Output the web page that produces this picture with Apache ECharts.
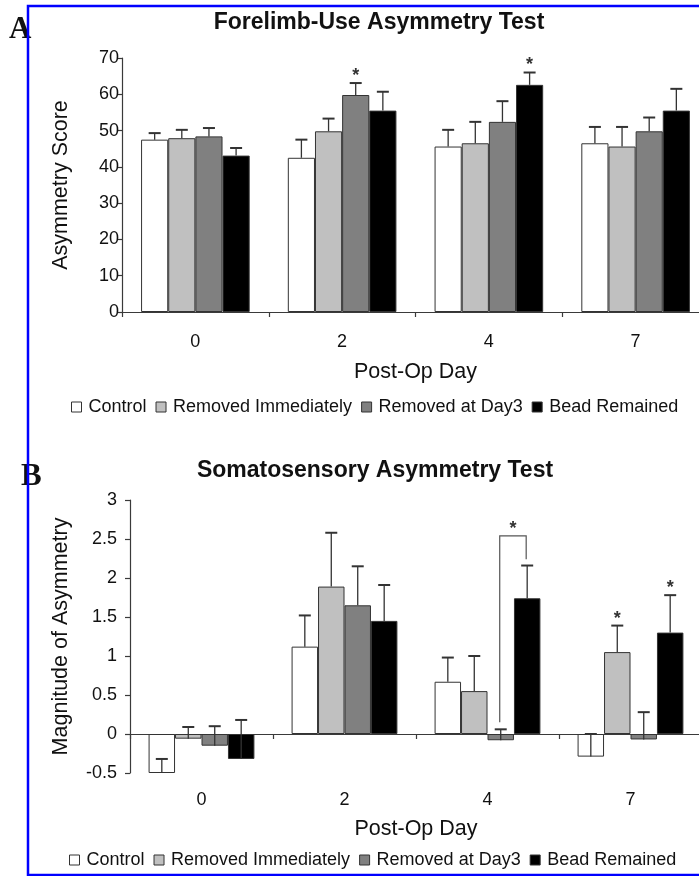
<!DOCTYPE html>
<html><head><meta charset="utf-8">
<script src="https://cdn.jsdelivr.net/npm/echarts@6/dist/echarts.min.js"></script>
<style>html,body{margin:0;padding:0;background:#fff}#c{width:699px;height:876px}</style>
</head><body><div id="c"></div>
<script>
// ---------- data ----------
const categories = ['0', '2', '4', '7'];
const seriesNames = ['Control', 'Removed Immediately', 'Removed at Day3', 'Bead Remained'];

// Panel A: Forelimb-Use Asymmetry Test (means, upper SEM)
const forelimbControl = [47.5, 42.5, 45.6, 46.5];
const forelimbRemovedImmediately = [47.9, 49.8, 46.5, 45.6];
const forelimbRemovedDay3 = [48.4, 59.8, 52.4, 49.8];
const forelimbBeadRemained = [43.1, 55.5, 62.6, 55.5];
const forelimbErrControl = [1.8, 5.0, 4.6, 4.5];
const forelimbErrRemovedImmediately = [2.3, 3.5, 5.9, 5.4];
const forelimbErrRemovedDay3 = [2.3, 3.3, 5.7, 3.8];
const forelimbErrBeadRemained = [2.1, 5.2, 3.4, 6.0];
const forelimbTicks = [0, 10, 20, 30, 40, 50, 60, 70];
// significance stars: [categoryIndex, seriesIndex]
const forelimbStars = [[1, 2], [2, 3]];

// Panel B: Somatosensory Asymmetry Test
const somatoControl = [-0.5, 1.12, 0.67, -0.29];
const somatoRemovedImmediately = [-0.06, 1.89, 0.55, 1.05];
const somatoRemovedDay3 = [-0.15, 1.65, -0.08, -0.07];
const somatoBeadRemained = [-0.32, 1.45, 1.74, 1.30];
const somatoErrControl = [0.18, 0.40, 0.31, 0.29];
const somatoErrRemovedImmediately = [0.15, 0.69, 0.45, 0.34];
const somatoErrRemovedDay3 = [0.25, 0.50, 0.14, 0.35];
const somatoErrBeadRemained = [0.50, 0.46, 0.42, 0.48];
const somatoTicks = [-0.5, 0, 0.5, 1, 1.5, 2, 2.5, 3];
const somatoStars = [[3, 1], [3, 3]];
// bracket: [categoryIndex, fromSeries, toSeries, yFrom, yTop, yTo]
const somatoBracket = [[2, 2, 3, 0.15, 2.54, 2.24]];

// ---------- styling ----------
const colors = ['#ffffff', '#c0c0c0', '#808080', '#000000'];
const FONT = '"Liberation Sans", Arial, Helvetica, sans-serif';
const GAP = 0.26;
const N = 4;
const TXT = '#111';

function barX(api, c, idx) {
  const band = api.size([1, 0])[0];
  const gw = band * (1 - GAP), bw = gw / N;
  const base = api.coord([c, 0]);
  return base[0] - gw / 2 + bw * (idx + 0.5);
}

function errRender(idx) {
  return function (params, api) {
    const c = api.value(0), v = api.value(1), e = api.value(2);
    const x = barX(api, c, idx);
    const y0 = api.coord([c, v])[1];
    const y1 = api.coord([c, v + e])[1];
    const cap = 6;
    return { type: 'group', children: [
      { type: 'line', shape: { x1: x, y1: y0, x2: x, y2: y1 }, style: { stroke: '#333', lineWidth: 1.3 } },
      { type: 'line', shape: { x1: x - cap, y1: y1, x2: x + cap, y2: y1 }, style: { stroke: '#333', lineWidth: 2 } }
    ]};
  };
}

function starRender(params, api) {
  const c = api.value(0), idx = api.value(1), yv = api.value(2);
  const x = barX(api, c, idx);
  const y = api.coord([c, yv])[1];
  return { type: 'text', x: x, y: y - 7, style: { text: '*', fill: '#333', font: 'bold 18px ' + FONT, align: 'center', verticalAlign: 'middle' } };
}

function bracketRender(params, api) {
  const c = api.value(0), i1 = api.value(1), i2 = api.value(2);
  const x1 = barX(api, c, i1) - 1, x2 = barX(api, c, i2) - 1;
  const yA = api.coord([c, api.value(3)])[1];
  const yT = api.coord([c, api.value(4)])[1];
  const yB = api.coord([c, api.value(5)])[1];
  return { type: 'group', children: [
    { type: 'polyline', shape: { points: [[x1, yA], [x1, yT], [x2, yT], [x2, yB]] }, style: { stroke: '#555', lineWidth: 1.2, fill: null } },
    { type: 'text', x: (x1 + x2) / 2, y: yT - 7, style: { text: '*', fill: '#333', font: 'bold 18px ' + FONT, align: 'center', verticalAlign: 'middle' } }
  ]};
}

const forelimbMeans = [forelimbControl, forelimbRemovedImmediately, forelimbRemovedDay3, forelimbBeadRemained];
const forelimbErrs = [forelimbErrControl, forelimbErrRemovedImmediately, forelimbErrRemovedDay3, forelimbErrBeadRemained];
const somatoMeans = [somatoControl, somatoRemovedImmediately, somatoRemovedDay3, somatoBeadRemained];
const somatoErrs = [somatoErrControl, somatoErrRemovedImmediately, somatoErrRemovedDay3, somatoErrBeadRemained];

const series = [];
function addPanel(means, errs, stars, xi, yi, brackets) {
  means.forEach((m, i) => {
    series.push({
      type: 'bar', name: seriesNames[i], xAxisIndex: xi, yAxisIndex: yi,
      data: m, barGap: '0%', barCategoryGap: (GAP * 100) + '%',
      itemStyle: { color: colors[i], borderColor: '#333', borderWidth: 1 },
      emphasis: { disabled: true }, z: 2
    });
  });
  means.forEach((m, i) => {
    series.push({
      type: 'custom', xAxisIndex: xi, yAxisIndex: yi, renderItem: errRender(i), z: 3,
      encode: { x: 0, y: 1 },
      data: m.map((v, c) => [c, v, errs[i][c]])
    });
  });
  series.push({
    type: 'custom', xAxisIndex: xi, yAxisIndex: yi, renderItem: starRender, z: 4,
    encode: { x: 0, y: 2 },
    data: stars.map(s => [s[0], s[1], means[s[1]][s[0]] + errs[s[1]][s[0]]])
  });
  if (brackets) {
    series.push({
      type: 'custom', xAxisIndex: xi, yAxisIndex: yi, renderItem: bracketRender, z: 4,
      encode: { x: 0, y: 4 }, data: brackets
    });
  }
}
addPanel(forelimbMeans, forelimbErrs, forelimbStars, 0, 0, null);
addPanel(somatoMeans, somatoErrs, somatoStars, 1, 1, somatoBracket);

const axisLineStyle = { color: '#3a3a3a', width: 1.2 };
const labelStyle = { color: TXT, fontSize: 18, fontFamily: FONT };
const nameStyle = { color: TXT, fontSize: 21.5, fontFamily: FONT };

const legendBase = {
  data: seriesNames, icon: 'rect', itemWidth: 10, itemHeight: 10, itemGap: 9,
  itemStyle: { borderColor: '#333', borderWidth: 1 },
  textStyle: { color: TXT, fontSize: 18, fontFamily: FONT, padding: [0, 0, 0, 2] },
  selectedMode: false, padding: 0
};

const option = {
  animation: false,
  backgroundColor: '#fff',
  title: [
    { text: 'Forelimb-Use Asymmetry Test', left: 379, top: 11, textAlign: 'center', padding: 0,
      textStyle: { fontSize: 23, fontWeight: 'bold', color: TXT, fontFamily: FONT } },
    { text: 'Somatosensory Asymmetry Test', left: 375, top: 459, textAlign: 'center', padding: 0,
      textStyle: { fontSize: 23, fontWeight: 'bold', color: TXT, fontFamily: FONT } }
  ],
  legend: [
    Object.assign({}, legendBase, { left: 71, top: 398 }),
    Object.assign({}, legendBase, { left: 69, top: 851 })
  ],
  grid: [
    { left: 122, right: -10, top: 58, height: 254, outerBoundsMode: 'none' },
    { left: 130, right: -3, top: 500, height: 273, outerBoundsMode: 'none' }
  ],
  xAxis: [
    { type: 'category', gridIndex: 0, data: categories, position: 'bottom',
      name: 'Post-Op Day', nameLocation: 'middle', nameGap: 49, nameTextStyle: nameStyle,
      axisLine: { show: true, onZero: false, lineStyle: axisLineStyle },
      axisTick: { show: true, length: 5, lineStyle: axisLineStyle },
      axisLabel: Object.assign({ margin: 21 }, labelStyle), splitLine: { show: false } },
    { type: 'category', gridIndex: 1, data: categories, position: 'bottom',
      name: 'Post-Op Day', nameLocation: 'middle', nameGap: 45, nameTextStyle: nameStyle,
      axisLine: { show: false, onZero: false },
      axisTick: { show: false },
      axisLabel: Object.assign({ margin: 18 }, labelStyle), splitLine: { show: false } },
    { type: 'category', gridIndex: 1, data: categories, position: 'bottom',
      axisLine: { show: true, onZero: true, lineStyle: axisLineStyle },
      axisTick: { show: true, length: 5, lineStyle: axisLineStyle },
      axisLabel: { show: false }, splitLine: { show: false } }
  ],
  yAxis: [
    { type: 'value', gridIndex: 0, min: forelimbTicks[0], max: forelimbTicks[forelimbTicks.length - 1], interval: 10,
      name: 'Asymmetry Score', nameLocation: 'middle', nameGap: 50, nameRotate: 90, nameTextStyle: nameStyle,
      axisLine: { show: true, lineStyle: axisLineStyle },
      axisTick: { show: true, length: 5, lineStyle: axisLineStyle },
      axisLabel: Object.assign({ margin: 3 }, labelStyle), splitLine: { show: false } },
    { type: 'value', gridIndex: 1, min: somatoTicks[0], max: somatoTicks[somatoTicks.length - 1], interval: 0.5,
      name: 'Magnitude of Asymmetry', nameLocation: 'middle', nameGap: 58, nameRotate: 90, nameTextStyle: nameStyle,
      axisLine: { show: true, onZero: false, lineStyle: axisLineStyle },
      axisTick: { show: true, length: 5, lineStyle: axisLineStyle },
      axisLabel: Object.assign({ margin: 13 }, labelStyle), splitLine: { show: false } }
  ],
  graphic: [
    { type: 'text', left: 9, top: 14, z: 10, style: { text: 'A', fill: TXT, font: 'bold 31px "Liberation Serif", "Times New Roman", serif' } },
    { type: 'text', left: 21, top: 461, z: 10, style: { text: 'B', fill: TXT, font: 'bold 31px "Liberation Serif", "Times New Roman", serif' } },
    { type: 'rect', z: 20, shape: { x: 28, y: 6, width: 720, height: 869 }, style: { fill: null, stroke: '#0000ff', lineWidth: 2.5 } }
  ],
  series: series
};

const chart = echarts.init(document.getElementById('c'), null, { renderer: 'canvas' });
chart.setOption(option);
</script>
</body></html>
